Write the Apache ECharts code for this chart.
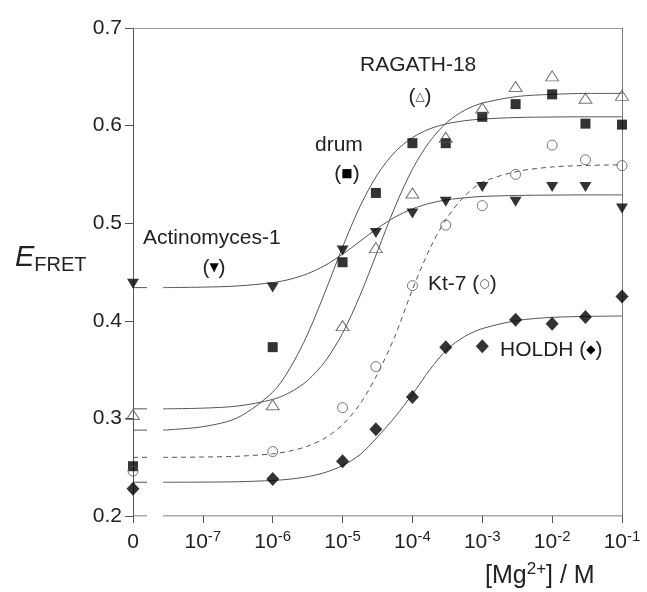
<!DOCTYPE html>
<html>
<head>
<meta charset="utf-8">
<script src="https://cdn.jsdelivr.net/npm/echarts@6/dist/echarts.min.js"></script>
<style>
  html, body { margin: 0; padding: 0; background: #fff; }
  #chart { width: 647px; height: 592px; }
</style>
</head>
<body>
<div id="chart"></div>
<script>
// log10 of [Mg2+]; -8 stands for the "0" point
var concLog = [-8, -6, -5, -4.523, -4, -3.523, -3, -2.523, -2, -1.523, -1];
var xTicks = [-8, -7, -6, -5, -4, -3, -2, -1];

// measured E_FRET
var actinomyces = [0.438, 0.434, 0.472, 0.490, 0.510, 0.522, 0.537, 0.522, 0.537, 0.537, 0.515];
var drum        = [0.251, 0.373, 0.460, 0.531, 0.582, 0.582, 0.609, 0.622, 0.632, 0.602, 0.601];
var ragath      = [0.304, 0.314, 0.395, 0.475, 0.531, 0.588, 0.618, 0.640, 0.651, 0.628, 0.631];
var kt7         = [0.246, 0.266, 0.311, 0.353, 0.436, 0.498, 0.518, 0.550, 0.580, 0.565, 0.559];
var holdh       = [0.228, 0.238, 0.256, 0.289, 0.322, 0.373, 0.374, 0.401, 0.397, 0.404, 0.425];

// fitted curves
var fitLog = [-7.57, -7, -6.5, -6, -5.75, -5.5, -5.25, -5, -4.75, -4.5, -4.25, -4, -3.75, -3.5, -3.25, -3, -2.5, -2, -1.5, -1];
var actinomycesFit = [0.434, 0.4345, 0.4357, 0.4391, 0.4426, 0.4483, 0.4568, 0.4682, 0.4815, 0.4948, 0.5062, 0.5147, 0.5204, 0.524, 0.526, 0.5274, 0.5284, 0.5288, 0.529, 0.529];
var drumFit        = [0.288, 0.2915, 0.3008, 0.3269, 0.3517, 0.3864, 0.4296, 0.4755, 0.5173, 0.550, 0.573, 0.5877, 0.5967, 0.602, 0.605, 0.6067, 0.6083, 0.6088, 0.609, 0.609];
var ragathFit      = [0.3098, 0.3105, 0.3127, 0.3194, 0.3267, 0.3389, 0.3584, 0.3872, 0.426, 0.4713, 0.5166, 0.5553, 0.584, 0.6036, 0.6158, 0.623, 0.6298, 0.632, 0.633, 0.633];
var kt7Fit         = [0.2601, 0.2604, 0.2612, 0.2637, 0.2666, 0.2715, 0.2799, 0.2935, 0.3148, 0.3455, 0.3843, 0.432, 0.474, 0.506, 0.528, 0.542, 0.553, 0.5576, 0.5592, 0.5598];
var holdhFit       = [0.2346, 0.2347, 0.2351, 0.2364, 0.2378, 0.2403, 0.2446, 0.2517, 0.2629, 0.281, 0.3015, 0.3247, 0.350, 0.371, 0.384, 0.392, 0.4003, 0.4035, 0.4045, 0.4049];

// short baseline stub next to the axis, then the axis break
var stubLog = [-8, -7.8];

var FONT = 'Liberation Sans, Arial, sans-serif';
var LINE = '#555';

function pairs(xs, ys) {
  return xs.map(function (x, i) { return [x, ys[i]]; });
}

function group(name, vals, fit, sym, dashed) {
  var lineStyle = { color: LINE, width: 1, type: dashed ? [5, 4] : 'solid' };
  return [
    {
      name: name + ' fit', type: 'line', data: pairs(fitLog, fit),
      smooth: 0.3, showSymbol: false, symbol: 'none',
      lineStyle: lineStyle, z: 2, silent: true
    },
    {
      name: name + ' base', type: 'line', data: pairs(stubLog, [fit[0], fit[0]]),
      showSymbol: false, symbol: 'none', lineStyle: lineStyle, z: 2, silent: true
    },
    Object.assign({
      name: name, type: 'scatter', data: pairs(concLog, vals), z: 5
    }, sym)
  ];
}

var series = [].concat(
  group('Actinomyces-1', actinomyces, actinomycesFit,
    { symbol: 'triangle', symbolRotate: 180, symbolSize: [12, 10], itemStyle: { color: '#000' } }),
  group('drum', drum, drumFit,
    { symbol: 'rect', symbolSize: 10, itemStyle: { color: '#000' } }),
  group('RAGATH-18', ragath, ragathFit,
    { symbol: 'triangle', symbolSize: [13, 10], itemStyle: { color: 'rgba(255,255,255,0)', borderColor: '#555', borderWidth: 1 } }),
  group('Kt-7', kt7, kt7Fit,
    { symbol: 'circle', symbolSize: 10, itemStyle: { color: 'rgba(255,255,255,0)', borderColor: '#555', borderWidth: 1 } }, true),
  group('HOLDH', holdh, holdhFit,
    { symbol: 'diamond', symbolSize: [13, 14], itemStyle: { color: '#000' } })
);

// bottom axis line drawn as two pieces so the break shows
series.push({
  name: 'x axis', type: 'line', silent: true, symbol: 'none', z: 1,
  data: [[-8, 0.2], [-7.8, 0.2], null, [-7.57, 0.2], [-1, 0.2]],
  connectNulls: false,
  lineStyle: { color: LINE, width: 1 }
});

var chart = echarts.init(document.getElementById('chart'));

var option = {
  animation: false,
  backgroundColor: '#fff',
  grid: { left: 133, right: 25, top: 28, bottom: 76, outerBoundsMode: 'none' },
  xAxis: [
    {
      type: 'value', min: -8, max: -1, interval: 1,
      axisLine: { show: false },
      axisTick: { show: true, length: 7, lineStyle: { color: LINE } },
      splitLine: { show: false },
      axisLabel: {
        margin: 13, color: '#222', fontFamily: FONT, fontSize: 21, lineHeight: 26,
        formatter: function (v) {
          if (v === -8) return '0';
          return '10{s|' + v + '}';
        },
        rich: {
          s: { fontSize: 15, lineHeight: 15, verticalAlign: 'top', color: '#222', fontFamily: FONT }
        }
      }
    },
    {
      type: 'value', position: 'top', min: -8, max: -1,
      axisLine: { show: true, lineStyle: { color: '#999' } },
      axisTick: { show: false }, axisLabel: { show: false }, splitLine: { show: false }
    }
  ],
  yAxis: [
    {
      type: 'value', min: 0.2, max: 0.7, interval: 0.1,
      axisLine: { show: true, lineStyle: { color: LINE } },
      axisTick: { show: true, length: 8, lineStyle: { color: LINE } },
      splitLine: { show: false },
      axisLabel: {
        margin: 11, color: '#222', fontFamily: FONT, fontSize: 21,
        formatter: function (v) { return v.toFixed(1); }
      }
    },
    {
      type: 'value', position: 'right', min: 0.2, max: 0.7,
      axisLine: { show: true, lineStyle: { color: '#777' } },
      axisTick: { show: false }, axisLabel: { show: false }, splitLine: { show: false }
    }
  ],
  series: series,
  graphic: [
    {
      type: 'text', x: 15, y: 258,
      style: {
        text: '{e|E}{f|FRET}', textVerticalAlign: 'middle',
        rich: {
          e: { fontSize: 29, lineHeight: 34, fontStyle: 'italic', fontFamily: FONT, fill: '#222' },
          f: { fontSize: 20, lineHeight: 22, verticalAlign: 'bottom', fontFamily: FONT, fill: '#222' }
        }
      }
    },
    {
      type: 'text', x: 485, y: 576,
      style: {
        text: '[Mg{s|2+}] / M', textVerticalAlign: 'middle',
        font: '25px ' + FONT, fill: '#222',
        rich: { s: { fontSize: 17, lineHeight: 17, verticalAlign: 'top', fontFamily: FONT, fill: '#222' } },
        lineHeight: 30
      }
    },
    { type: 'text', x: 360, y: 65, style: { text: 'RAGATH-18', textVerticalAlign: 'middle', font: '21px ' + FONT, fill: '#222' } },
    { type: 'text', x: 420, y: 97, style: { text: '({m|△})', textAlign: 'center', textVerticalAlign: 'middle', font: '21px ' + FONT, fill: '#222',
        rich: { m: { fontSize: 12, fontFamily: 'DejaVu Sans', fill: '#444' } } } },
    { type: 'text', x: 315, y: 145, style: { text: 'drum', textVerticalAlign: 'middle', font: '21px ' + FONT, fill: '#222' } },
    { type: 'text', x: 347, y: 174, style: { text: '({m|■})', textAlign: 'center', textVerticalAlign: 'middle', font: '21px ' + FONT, fill: '#222',
        rich: { m: { fontSize: 12, fontFamily: 'DejaVu Sans', fill: '#000' } } } },
    { type: 'text', x: 143, y: 238, style: { text: 'Actinomyces-1', textVerticalAlign: 'middle', font: '21px ' + FONT, fill: '#222' } },
    { type: 'text', x: 214, y: 268, style: { text: '({m|▼})', textAlign: 'center', textVerticalAlign: 'middle', font: '21px ' + FONT, fill: '#222',
        rich: { m: { fontSize: 12, fontFamily: 'DejaVu Sans', fill: '#000' } } } },
    { type: 'text', x: 428, y: 284, style: { text: 'Kt-7 ({m|○})', textVerticalAlign: 'middle', font: '21px ' + FONT, fill: '#222',
        rich: { m: { fontSize: 12, fontFamily: 'DejaVu Sans', fill: '#444' } } } },
    { type: 'text', x: 500, y: 350, style: { text: 'HOLDH ({m|◆})', textVerticalAlign: 'middle', font: '21px ' + FONT, fill: '#222',
        rich: { m: { fontSize: 12, fontFamily: 'DejaVu Sans', fill: '#000' } } } }
  ]
};

chart.setOption(option);
</script>
</body>
</html>
